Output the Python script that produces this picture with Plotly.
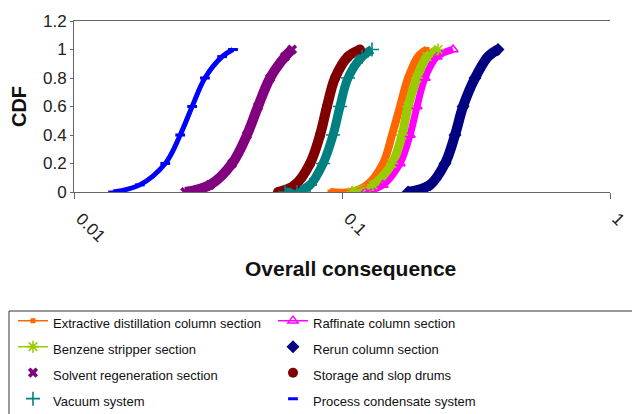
import plotly.graph_objects as go

# CDF levels (y values)
cdf_levels = [0, 0.05, 0.2, 0.4, 0.6, 0.8, 0.95, 1.0]
cdf_levels_tail = [0, 0, 0.05, 0.2, 0.4, 0.6, 0.8, 0.95, 1.0]

# Overall consequence (x values) at those CDF levels
extractive = [0.0902, 0.1071, 0.1240, 0.1422, 0.1537, 0.1646, 0.1764, 0.1921, 0.2076]
raffinate = [0.1218, 0.1422, 0.1646, 0.1794, 0.1905, 0.2040, 0.2262, 0.2596]
benzene = [0.1090, 0.1305, 0.1537, 0.1675, 0.1764, 0.1905, 0.2076, 0.2281]
rerun = [0.1764, 0.2131, 0.2423, 0.2641, 0.2829, 0.3136, 0.3507, 0.3820]
solvent = [0.0260, 0.0322, 0.0389, 0.0442, 0.0486, 0.0539, 0.0613, 0.0651]
storage = [0.0577, 0.0668, 0.0760, 0.0828, 0.0879, 0.0942, 0.1053, 0.1167]
vacuum = [0.0613, 0.0679, 0.0760, 0.0850, 0.0926, 0.0983, 0.1053, 0.1188, 0.1294]
condensate = [0.0140, 0.0176, 0.0219, 0.0249, 0.0276, 0.0308, 0.0357, 0.0392]

x_tick_vals = [0.01, 0.1, 1]
x_tick_text = ["0.01", "0.1", "1"]

FONT = "Liberation Sans, Arial, sans-serif"

series = [
    # name, xs, ys, color, band width, symbol, size, marker-line width, with line
    ("Extractive distillation column section", extractive, cdf_levels_tail, "#FF6600", 8, "square", 5, 0, True),
    ("Raffinate column section", raffinate, cdf_levels, "#FF00FF", 7, "triangle-up-open", 9, 1.5, True),
    ("Benzene stripper section", benzene, cdf_levels, "#99CC00", 9, "asterisk-open", 10, 1.6, True),
    ("Rerun column section", rerun, cdf_levels, "#000080", 10, "diamond", 10, 0, False),
    ("Solvent regeneration section", solvent, cdf_levels, "#800080", 10, "x", 9, 0, False),
    ("Storage and slop drums", storage, cdf_levels, "#800000", 10, "circle", 10, 0, False),
    ("Vacuum system", vacuum, cdf_levels_tail, "#008080", 9, "cross-thin-open", 10, 1.6, False),
    ("Process condensate system", condensate, cdf_levels, "#0000FF", 5, "line-ew-open", 7, 3, False),
]

band_order = [7, 4, 5, 6, 1, 0, 2, 3]

fig = go.Figure()

# thick bands (the dense marker clouds of the original)
for i in band_order:
    name, xs, ys, color, bw, sym, size, mlw, wl = series[i]
    fig.add_trace(go.Scatter(
        x=xs, y=ys, mode="lines",
        line=dict(color=color, width=bw, shape="spline", smoothing=1.0),
        showlegend=False, hoverinfo="skip",
    ))

# legend-carrying traces
for name, xs, ys, color, bw, sym, size, mlw, wl in series:
    marker = dict(symbol=sym, size=size, color=color)
    if mlw:
        marker["line"] = dict(color=color, width=mlw)
    fig.add_trace(go.Scatter(
        x=xs, y=ys,
        mode="lines+markers" if wl else "markers",
        line=dict(color=color, width=1.5),
        marker=marker,
        name='<span style="font-size:13px">' + name + "</span>",
        legendwidth=215,
    ))

axis_col = "#666666"

# page body has an 8px margin, so the figure is 8px smaller and every
# pixel target is shifted by 8px
fig.update_layout(
    width=632, height=406,
    margin=dict(l=66, r=30, t=13, b=222, autoexpand=False),
    paper_bgcolor="white", plot_bgcolor="white",
    font=dict(family=FONT, color="#222222"),
    xaxis=dict(
        type="log", range=[-2, 0],
        tickvals=x_tick_vals, ticktext=x_tick_text,
        tickangle=45, tickfont=dict(size=17, color="#222222"),
        ticks="outside", ticklen=6, tickcolor=axis_col,
        ticklabelshift=7, ticklabelstandoff=3,
        showline=True, linecolor=axis_col, linewidth=1, mirror=True,
        showgrid=False, zeroline=False,
    ),
    yaxis=dict(
        range=[0, 1.2], dtick=0.2, tick0=0,
        tickfont=dict(size=17, color="#222222"),
        ticks="outside", ticklen=3, tickcolor=axis_col,
        showline=True, linecolor=axis_col, linewidth=1,
        showgrid=False, zeroline=False,
        title=dict(text="<b>CDF</b>", font=dict(size=20, color="#111111"), standoff=12),
    ),
    yaxis2=dict(
        range=[0, 1.2], dtick=0.2, tick0=0, overlaying="y", anchor="x", side="right",
        ticks="inside", ticklen=5, tickcolor=axis_col, showticklabels=False,
        showline=True, linecolor=axis_col, linewidth=1,
        showgrid=False, zeroline=False,
    ),
    legend=dict(
        orientation="h", x=(5 - 66) / 536, xanchor="left", y=-0.647, yanchor="top",
        font=dict(size=17.7, family=FONT, color="#111111"),
        bgcolor="rgba(0,0,0,0)", borderwidth=0,
        tracegroupgap=0,
    ),
    annotations=[dict(
        text="<b>Overall consequence</b>", xref="paper", yref="paper",
        x=(350 - 74) / 536, y=(192 - 268) / 171, xanchor="center", yanchor="middle",
        showarrow=False, font=dict(size=21, family=FONT, color="#111111"),
    )],
    shapes=[dict(
        type="rect", xref="paper", yref="paper",
        x0=(9 - 74) / 536, x1=1.12, y0=(192 - 311) / 171, y1=-1.4,
        line=dict(color="#333333", width=1), fillcolor="rgba(0,0,0,0)",
    )],
)

fig.write_html("out.html")
